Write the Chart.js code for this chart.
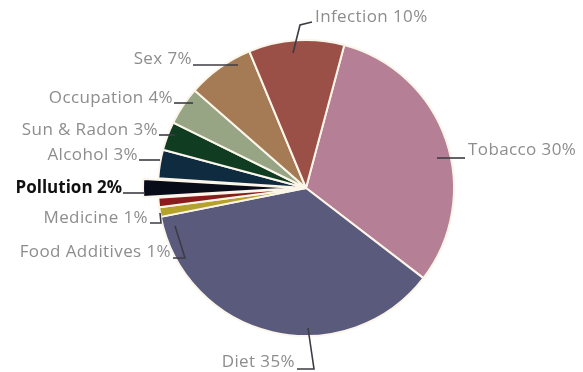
<!DOCTYPE html>
<html>
<head>
<meta charset="utf-8">
<script src="https://cdn.jsdelivr.net/npm/chart.js@4/dist/chart.umd.min.js"></script>
<style>
  html, body { margin: 0; padding: 0; background: #fff; }
  #wrap { width: 583px; height: 372px; position: relative; }
</style>
</head>
<body>
<div id="wrap"><canvas id="pie"></canvas></div>
<script>
// causes of cancer, clockwise from the top-right
const causes = ['Tobacco', 'Diet', 'Food Additives', 'Medicine', 'Pollution',
    'Alcohol', 'Sun & Radon', 'Occupation', 'Sex', 'Infection'];
const shares = [30, 35, 1, 1, 2, 3, 3, 4, 7, 10];
const sliceColors = ['#b57f95', '#5a5a7c', '#b5a22a', '#8a1c1c', '#080c18',
    '#0f2b40', '#103d22', '#98a585', '#a57b55', '#9b5047'];
const exploded = 'Pollution';

// leader line points and text anchor, relative to the pie centre (px)
const labelLayout = {
    'Tobacco':        { line: [[131, -30], [159, -30]], text: [162, -38], align: 'left' },
    'Diet':           { line: [[2, 140], [8, 181], [-9, 181]], text: [-11, 174], align: 'right' },
    'Food Additives': { line: [[-131, 38], [-121, 70], [-133, 70]], text: [-135, 64], align: 'right' },
    'Medicine':       { line: [[-146, 25], [-145, 35], [-156, 35]], text: [-158, 30], align: 'right' },
    'Pollution':      { line: [[-161, 5], [-183, 5]], text: [-184, 0], align: 'right' },
    'Alcohol':        { line: [[-146, -28], [-167, -28]], text: [-168, -33], align: 'right' },
    'Sun & Radon':    { line: [[-131, -53], [-147, -53]], text: [-148, -58], align: 'right' },
    'Occupation':     { line: [[-113, -85], [-132, -85]], text: [-133, -90], align: 'right' },
    'Sex':            { line: [[-68, -123], [-113, -123]], text: [-114, -129], align: 'right' },
    'Infection':      { line: [[-13, -135], [-6, -163], [6, -166]], text: [9, -171], align: 'left' }
};

const calloutPlugin = {
    id: 'callouts',
    afterDatasetsDraw(chart) {
        const ctx = chart.ctx;
        const arcs = chart.getDatasetMeta(0).data;
        if (!arcs.length) return;
        const cx = arcs[0].x, cy = arcs[0].y;
        ctx.save();
        causes.forEach((name, i) => {
            const lay = labelLayout[name];
            if (!lay) return;
            ctx.strokeStyle = '#3c3c44';
            ctx.lineWidth = 1.6;
            ctx.beginPath();
            lay.line.forEach(([dx, dy], k) => {
                if (k === 0) ctx.moveTo(cx + dx, cy + dy);
                else ctx.lineTo(cx + dx, cy + dy);
            });
            ctx.stroke();

            const bold = name === exploded;
            ctx.font = (bold ? 'bold ' : '') + '17px "Open Sans", sans-serif';
            ctx.letterSpacing = bold ? '0px' : '0.4px';
            ctx.fillStyle = bold ? '#111111' : '#8d8d8d';
            ctx.textAlign = lay.align;
            ctx.textBaseline = 'middle';
            ctx.fillText(name + ' ' + shares[i] + '%', cx + lay.text[0], cy + lay.text[1]);
        });
        ctx.restore();
    }
};

// Chart.js v4 draws an arc's offset at half its nominal value
new Chart(document.getElementById('pie'), {
    type: 'pie',
    data: {
        labels: causes,
        datasets: [{
            data: shares,
            backgroundColor: sliceColors,
            borderColor: '#fbf5ea',
            borderWidth: 2,
            hoverBorderWidth: 2,
            hoverOffset: 0,
            offset: causes.map(c => c === exploded ? 32 : 0)
        }]
    },
    options: {
        responsive: true,
        maintainAspectRatio: false,
        animation: false,
        rotation: 15,
        layout: { padding: { left: 141, right: 112, top: 23, bottom: 19 } },
        events: [],
        plugins: {
            legend: { display: false },
            tooltip: { enabled: false }
        }
    },
    plugins: [calloutPlugin]
});
</script>
</body>
</html>
